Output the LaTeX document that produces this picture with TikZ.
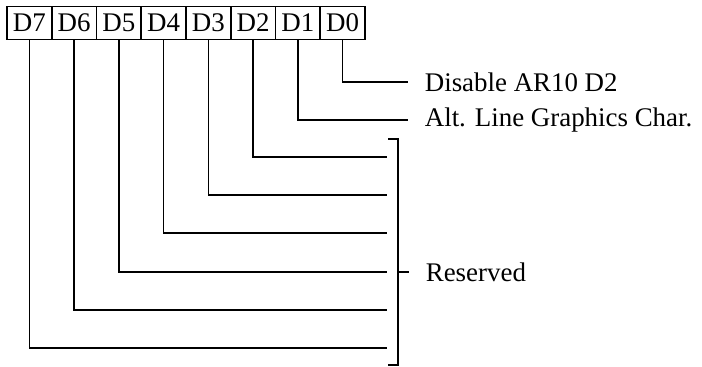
\documentclass[tikz,border=0pt]{standalone}
\usepackage{fontspec}
\setmainfont{Liberation Serif}
\begin{document}
\begin{tikzpicture}[x=1bp,y=-1bp,line width=1.7bp,
  bitbox/.style={draw,rectangle,minimum width=44.75bp,minimum height=33bp,inner sep=0pt,font=\fontsize{27}{27}\selectfont},
  lbl/.style={anchor=west,inner sep=0pt,font=\fontsize{27}{27}\selectfont}]
\useasboundingbox (0,0) rectangle (702,366);
\foreach \i/\n in {0/7,1/6,2/5,3/4,4/3,5/2,6/1,7/0}{
  \node[bitbox] (d\n) at ({7+22.375+44.75*\i},23) {D\n};
}
% free ends
\coordinate (e0) at (408,82);
\coordinate (e1) at (408,120);
\foreach \n/\y in {2/157,3/195,4/233,5/272,6/310,7/348}{
  \coordinate (e\n) at (387,\y);
}
\foreach \n in {0,...,7}{
  \draw (d\n.south) |- (e\n);
}
% bracket
\coordinate (bt) at (388,139);
\coordinate (bb) at (388,365);
\coordinate (bm) at (409,272);
\draw (bt) -- (398,139) -- (398,365) -- (bb);
\draw (398,272) -- (bm);
\node[lbl] (l0) at (424,82) {Disable AR10 D2};
\node[lbl] (l1) at (424,120) {Alt. Line Graphics Char.};
\node[lbl] (l2) at (425,272) {Reserved};
\end{tikzpicture}
\end{document}
